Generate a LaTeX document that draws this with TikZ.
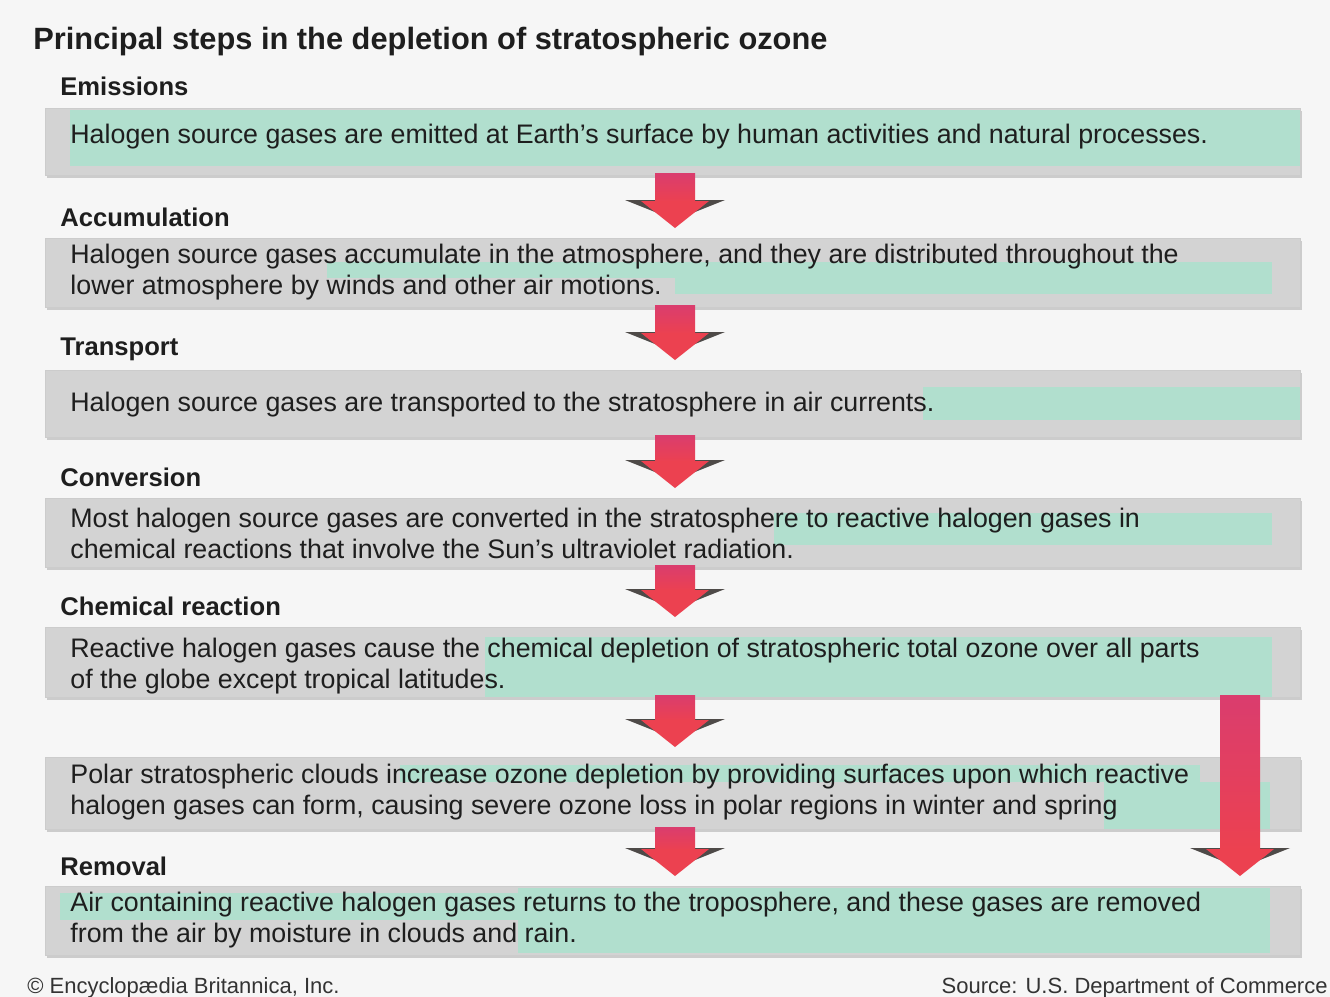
\documentclass[tikz,border=0pt]{standalone}
\usepackage{fontspec}
\setmainfont{Liberation Sans}
\usetikzlibrary{shadows,calc}
\definecolor{bg}{HTML}{F6F6F6}
\definecolor{boxgray}{HTML}{D3D3D3}
\definecolor{tealhl}{HTML}{B1DFCE}
\definecolor{txt}{HTML}{1E1E1E}
\definecolor{arrowred}{HTML}{EC4150}
\definecolor{arrowpink}{HTML}{DA3D6E}
\definecolor{wing}{HTML}{4E4A48}
\tikzset{
  stepbox/.style={fill=boxgray, draw=black!20, line width=0.6pt, minimum width=627.5pt,
    inner sep=0pt, anchor=north west,
    drop shadow={shadow xshift=0.6pt, shadow yshift=-1.2pt, opacity=0.35}},
  bodytext/.style={anchor=north west, inner sep=0pt, align=left, text=txt,
    font=\fontsize{13.4}{15.5}\selectfont},
  steplabel/.style={anchor=base west, inner sep=0pt, text=txt,
    font=\bfseries\fontsize{12.8}{15}\selectfont},
  titletext/.style={anchor=base west, inner sep=0pt, text=txt,
    font=\bfseries\fontsize{15.4}{18}\selectfont},
  foot/.style={inner sep=0pt, text=black!80, font=\fontsize{11}{13}\selectfont},
  hl/.style={fill=tealhl},
  shaft/.style={top color=arrowpink, bottom color=arrowred},
}
% block arrow from the bottom of box #1 to the top of box #2, centred on coordinate #3
\newcommand\blkarrow[3]{%
  \coordinate (at) at ($(#3 |- #1.south)+(0,-3)$);
  \coordinate (ab) at ($(#3 |- #2.north)+(0,-10)$);
  \coordinate (ah) at ($(ab)+(0,-28)$);
  \fill[wing] ($(ah)+(-50,0)$) -- ($(ah)+(50,0)$) -- ($(ab)+(0,-8)$) -- cycle;
  \path[shaft] ($(at)+(-20,0)$) rectangle ($(ah)+(20,2)$);
  \fill[arrowred] ($(ah)+(-34,1)$) -- ($(ah)+(34,1)$) -- (ab) -- cycle;
}
\begin{document}
\begin{tikzpicture}[x=0.5pt, y=-0.5pt]
\useasboundingbox (0,0) rectangle (1330,997);
\fill[bg] (0,0) rectangle (1330,997);

\node[titletext] (title) at (33,49) {Principal steps in the depletion of stratospheric ozone};

% boxes
\node[stepbox, minimum height=33.5pt] (b1) at (45,108) {};
\node[stepbox, minimum height=34.5pt] (b2) at (45,238) {};
\node[stepbox, minimum height=33.5pt] (b3) at (45,370) {};
\node[stepbox, minimum height=34.5pt] (b4) at (45,498) {};
\node[stepbox, minimum height=35pt]   (b5) at (45,627) {};
\node[stepbox, minimum height=36pt]   (b6) at (45,757) {};
\node[stepbox, minimum height=34.5pt] (b7) at (45,886) {};

% teal highlight bands
\fill[hl] (70,110) rectangle (1300,166);
\fill[hl] (327,262) rectangle (1272,278);
\fill[hl] (675,262) rectangle (1272,294);
\fill[hl] (923,387) rectangle (1300,420);
\fill[hl] (774,513) rectangle (1272,545);
\fill[hl] (485,637) rectangle (1272,697);
\fill[hl] (400,765) rectangle (1200,782);
\fill[hl] (1104,782) rectangle (1270,829);
\fill[hl] (518,888) rectangle (1270,953);
\fill[hl] (60,893) rectangle (518,920);

% labels
\node[steplabel] (l1) at (60,95)  {Emissions};
\node[steplabel] (l2) at (60,226) {Accumulation};
\node[steplabel] (l3) at (60,355) {Transport};
\node[steplabel] (l4) at (60,486) {Conversion};
\node[steplabel] (l5) at (60,615) {Chemical reaction};
\node[steplabel] (l7) at (60,875) {Removal};

% box texts (anchor = top of first line; baseline - 19)
\node[bodytext] (t1) at (70,124) {Halogen source gases are emitted at Earth’s surface by human activities and natural processes.};
\node[bodytext] (t2) at (70,244) {Halogen source gases accumulate in the atmosphere, and they are distributed throughout the\\lower atmosphere by winds and other air motions.};
\node[bodytext] (t3) at (70,392) {Halogen source gases are transported to the stratosphere in air currents.};
\node[bodytext] (t4) at (70,508) {Most halogen source gases are converted in the stratosphere to reactive halogen gases in\\chemical reactions that involve the Sun’s ultraviolet radiation.};
\node[bodytext] (t5) at (70,638) {Reactive halogen gases cause the chemical depletion of stratospheric total ozone over all parts\\of the globe except tropical latitudes.};
\node[bodytext] (t6) at (70,764) {Polar stratospheric clouds increase ozone depletion by providing surfaces upon which reactive\\halogen gases can form, causing severe ozone loss in polar regions in winter and spring};
\node[bodytext] (t7) at (70,892) {Air containing reactive halogen gases returns to the troposphere, and these gases are removed\\from the air by moisture in clouds and rain.};

% arrows
\coordinate (mid) at (675,0);
\coordinate (side) at (1240,0);
\blkarrow{b1}{b2}{mid}
\blkarrow{b2}{b3}{mid}
\blkarrow{b3}{b4}{mid}
\blkarrow{b4}{b5}{mid}
\blkarrow{b5}{b6}{mid}
\blkarrow{b6}{b7}{mid}
\blkarrow{b5}{b7}{side}

% footer
\node[foot, anchor=base west] (f1) at (27,993) {© Encyclopædia Britannica, Inc.};
\node[foot, anchor=base east] (f2) at (1328,993) {Source: U.S. Department of Commerce};
\end{tikzpicture}
\end{document}
